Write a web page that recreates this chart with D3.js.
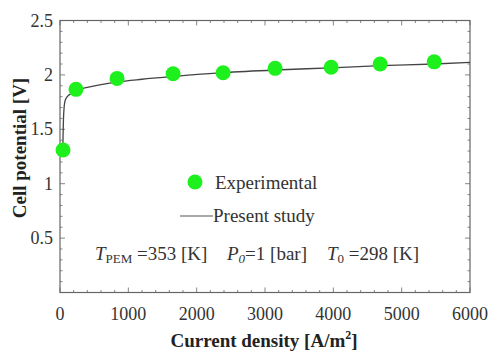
<!DOCTYPE html>
<html><head><meta charset="utf-8">
<script src="https://cdn.jsdelivr.net/npm/d3@7"></script>
<style>body{margin:0;background:#fff}svg{display:block}</style>
</head><body>
<script>
const expCurrent = [44, 234, 835, 1655, 2387, 3148, 3968, 4685, 5476];
const expVoltage = [1.31, 1.867, 1.968, 2.01, 2.02, 2.06, 2.07, 2.10, 2.12];
const modelCurrent = [40, 45, 50, 60, 70, 90, 120, 170, 234, 400, 600, 835, 1200, 1655, 2387, 3148, 3968, 4685, 5476, 6000];
const modelVoltage = [1.26, 1.45, 1.58, 1.70, 1.75, 1.785, 1.81, 1.83, 1.86, 1.885, 1.91, 1.935, 1.96, 1.985, 2.02, 2.045, 2.065, 2.085, 2.10, 2.115];
const xTicks = [0, 1000, 2000, 3000, 4000, 5000, 6000];
const yTicks = [0.5, 1, 1.5, 2, 2.5];
const yTickLabels = ["0.5", "1", "1.5", "2", "2.5"];

const W = 490, H = 354;
const m = {l: 60, r: 20, t: 20.5, b: 61.5};
const FONT = "'Liberation Serif', 'Times New Roman', 'DejaVu Serif', serif";
const svg = d3.select("body").append("svg").attr("width", W).attr("height", H)
  .attr("font-family", FONT).style("font-family", FONT);
const x = d3.scaleLinear().domain([0, 6000]).range([m.l, W - m.r]);
const y = d3.scaleLinear().domain([0, 2.5]).range([H - m.b, m.t]);
const frameCol = "#666";

// minor / major ticks on all sides (inward)
const xMinor = d3.range(0, 6001, 200).filter(v => v % 1000 !== 0);
const yMinor = d3.range(1, 25).map(v => v / 10).filter(v => Math.round(v * 10) % 5 !== 0);
const tg = svg.append("g").attr("stroke", frameCol).attr("stroke-width", 0.8);
function xt(v, len) {
  tg.append("line").attr("x1", x(v)).attr("x2", x(v)).attr("y1", y(0)).attr("y2", y(0) - len);
  tg.append("line").attr("x1", x(v)).attr("x2", x(v)).attr("y1", y(2.5)).attr("y2", y(2.5) + len);
}
function yt(v, len) {
  tg.append("line").attr("y1", y(v)).attr("y2", y(v)).attr("x1", x(0)).attr("x2", x(0) + len);
  tg.append("line").attr("y1", y(v)).attr("y2", y(v)).attr("x1", x(6000)).attr("x2", x(6000) - len);
}
xMinor.forEach(v => xt(v, 2.5));
xTicks.forEach(v => xt(v, 5));
yMinor.forEach(v => yt(v, 2.5));
yTicks.forEach(v => yt(v, 5));

svg.append("rect").attr("x", x(0)).attr("y", y(2.5)).attr("width", x(6000) - x(0)).attr("height", y(0) - y(2.5))
  .attr("fill", "none").attr("stroke", frameCol).attr("stroke-width", 1.2);

// tick labels
svg.append("g").selectAll("text").data(xTicks).join("text")
  .attr("x", d => x(d)).attr("y", 320).attr("text-anchor", "middle")
  .attr("font-size", 18).attr("fill", "#333").text(d => d);
svg.append("g").selectAll("text").data(yTicks).join("text")
  .attr("x", x(0) - 7).attr("y", d => y(d) + 6).attr("text-anchor", "end")
  .attr("font-size", 18).attr("fill", "#333").text((d, i) => yTickLabels[i]);

// axis titles
const xl = svg.append("text").attr("x", 264).attr("y", 347).attr("text-anchor", "middle")
  .attr("font-size", 19).attr("font-weight", "bold").attr("fill", "#222");
xl.append("tspan").text("Current density [A/m");
xl.append("tspan").attr("font-size", 12).attr("dy", -8).text("2");
xl.append("tspan").attr("dy", 8).text("]");
svg.append("text").attr("transform", `translate(26,148) rotate(-90)`)
  .attr("text-anchor", "middle").attr("font-size", 19).attr("font-weight", "bold").attr("fill", "#222")
  .text("Cell potential  [V]");

// model curve
const line = d3.line().x((d, i) => x(modelCurrent[i])).y((d, i) => y(modelVoltage[i])).curve(d3.curveMonotoneX);
svg.append("path").datum(modelVoltage).attr("d", line).attr("fill", "none").attr("stroke", "#444").attr("stroke-width", 1.3);

// experimental points
svg.append("g").selectAll("circle").data(expVoltage).join("circle")
  .attr("cx", (d, i) => x(expCurrent[i])).attr("cy", d => y(d)).attr("r", 7.5).attr("fill", "#1ef01e");

// legend
svg.append("circle").attr("cx", 195).attr("cy", 182).attr("r", 7.5).attr("fill", "#1ef01e");
svg.append("text").attr("x", 215).attr("y", 189).attr("font-size", 19).attr("fill", "#333").text("Experimental");
svg.append("line").attr("x1", 180).attr("x2", 213).attr("y1", 216).attr("y2", 216).attr("stroke", "#555").attr("stroke-width", 1.2);
svg.append("text").attr("x", 213).attr("y", 222).attr("font-size", 19).attr("fill", "#333").text("Present study");

// parameters
const p = svg.append("text").attr("y", 260).attr("font-size", 19).attr("fill", "#333");
p.append("tspan").attr("x", 95).attr("font-style", "italic").text("T");
p.append("tspan").attr("font-size", 13).attr("dy", 3).text("PEM");
p.append("tspan").attr("dy", -3).text(" =353 [K]");
p.append("tspan").attr("x", 227).attr("font-style", "italic").text("P");
p.append("tspan").attr("font-size", 13).attr("font-style", "italic").attr("dy", 3).text("0");
p.append("tspan").attr("dy", -3).text("=1 [bar]");
p.append("tspan").attr("x", 327).attr("font-style", "italic").text("T");
p.append("tspan").attr("font-size", 13).attr("dy", 3).text("0");
p.append("tspan").attr("dy", -3).text(" =298 [K]");
</script>
</body></html>
